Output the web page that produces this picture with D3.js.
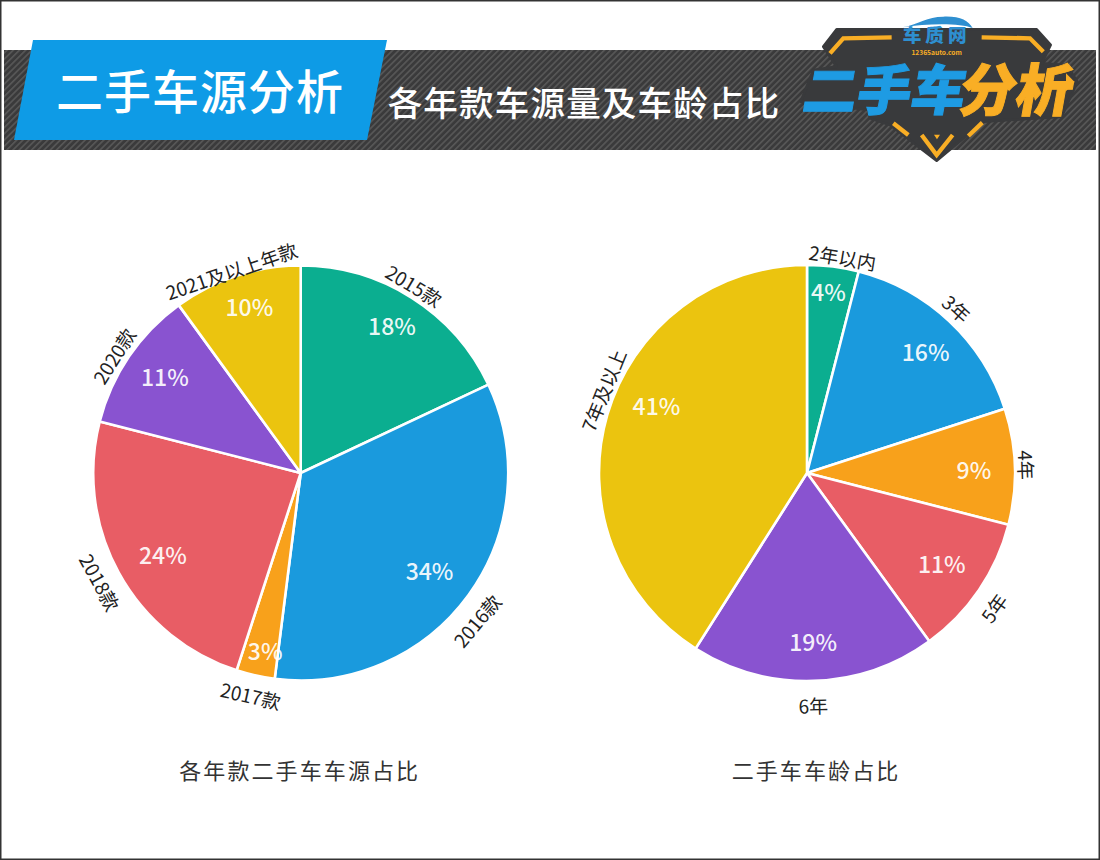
<!DOCTYPE html>
<html><head><meta charset="utf-8">
<script src="https://cdn.jsdelivr.net/npm/d3@7"></script>
<style>html,body{margin:0;padding:0;background:#fff}svg{display:block}
text{font-family:"Noto Sans CJK SC","Noto Sans",sans-serif}</style></head>
<body><div id="c"></div>
<script>
const modelCats = ["2015款","2016款","2017款","2018款","2020款","2021及以上年款"];
const modelVals = [18,34,3,24,11,10];
const ageCats = ["2年以内","3年","4年","5年","6年","7年及以上"];
const ageVals = [4,16,9,11,19,41];
const colors = ["#0BAE90","#1A9ADD","#F8A11B","#E85D65","#8953D0","#EBC40F"];
const headerTitle = "二手车源分析";
const headerSub = "各年款车源量及车龄占比";
const titles = ["各年款二手车车源占比","二手车车龄占比"];

const W=1100,H=860;
// label fine-tuning (layout only), in pixels
const modelPctShift=[[4,0],[-3,-6],[0,6],[5,-3],[-1,1],[-1,-1]];
const modelCatShift=[[-5,-1],[-9,13],[0,-1],[0,-1],[-4,7],[-1,8]];
const agePctShift=[[1,-8],[7,6],[4,1],[0,-8],[1,-7],[6,-19]];
const ageCatShift=[[8,4],[-2,-3],[-2,-1],[-3,6],[-1,3],[9,-21]];

const svg=d3.select("#c").append("svg").attr("width",W).attr("height",H).attr("viewBox",`0 0 ${W} ${H}`);
svg.append("rect").attr("width",W).attr("height",H).attr("fill","#fff");

const defs=svg.append("defs");
const pat=defs.append("pattern").attr("id","hatch").attr("width",4.4).attr("height",4.4)
  .attr("patternUnits","userSpaceOnUse").attr("patternTransform","rotate(45)");
pat.append("rect").attr("width",4.4).attr("height",4.4).attr("fill","#3a3a3b");
pat.append("rect").attr("width",1.6).attr("height",4.4).attr("fill","#585858");

svg.append("rect").attr("x",4).attr("y",50).attr("width",1092).attr("height",100).attr("fill","url(#hatch)");
svg.append("polygon").attr("points","33,40 387,40 367,140 14,140").attr("fill","#0E9BE6");
svg.append("text").attr("x",200).attr("y",109).attr("text-anchor","middle").attr("font-size",47)
  .attr("letter-spacing",1).attr("font-weight",500).attr("fill","#fff").text(headerTitle);
svg.append("text").attr("x",584).attr("y",116).attr("text-anchor","middle").attr("font-size",34.5)
  .attr("letter-spacing",1.2).attr("font-weight",500).attr("fill","#fff").text(headerSub);

// logo, drawn in 3x crop coordinates
const logo=svg.append("g").attr("transform","translate(780,10) scale(0.3333)");
logo.append("polygon").attr("points","170,58 770,58 812,105 785,160 860,165 892,215 845,320 610,335 470,452 330,345 270,325 265,300 62,275 100,180 170,170 130,110")
  .attr("fill","#393a3c").attr("stroke","#393a3c").attr("stroke-width",8).attr("stroke-linejoin","round");
const org="#F9AE25", blu="#1E9BE3";
["335,82 190,85 150,130","605,82 750,85 790,125","340,340 385,375","607,338 565,378","425,375 470,435 518,375"]
 .forEach(p=>logo.append("polyline").attr("points",p).attr("fill","none").attr("stroke",org).attr("stroke-width",13));
logo.append("polygon").attr("points","462,374 480,374 471,388").attr("fill",org);
logo.append("path").attr("d","M368,52 C420,42 440,20 490,20 C540,18 565,32 578,54 C540,38 440,40 368,52Z").attr("fill","#2E8FD0");
logo.append("text").attr("x",470).attr("y",97).attr("text-anchor","middle").attr("font-size",56).attr("letter-spacing",12).attr("font-weight",900).attr("fill","#2E8FD0").text("车质网");
logo.append("text").attr("x",470).attr("y",134).attr("text-anchor","middle").attr("font-size",20).attr("font-weight",700).attr("fill",org).text("12365auto.com");
const skew=(x,y)=>`translate(${x},${y}) skewX(-10)`;
logo.append("text").attr("transform",skew(62,300)).attr("font-size",162).attr("font-weight",900).attr("fill",blu).attr("stroke",blu).attr("stroke-width",3).text("二手车");
logo.append("text").attr("transform",skew(530,303)).attr("font-size",170).attr("font-weight",900).attr("fill",org).attr("stroke",org).attr("stroke-width",3).text("分析");
logo.append("polygon").attr("points","858,190 884,216 858,244").attr("fill",org);

function drawPie(cx,cy,R,cats,vals,title,titleX,pctShift,catShift){
  const g=svg.append("g").attr("transform",`translate(${cx},${cy})`);
  const data=d3.pie().sort(null).value(d=>d)(vals);
  const arc=d3.arc().innerRadius(0).outerRadius(R);
  const unit=d3.arc().innerRadius(1).outerRadius(1);
  g.selectAll("path").data(data).join("path").attr("d",arc)
    .attr("fill",(d,i)=>colors[i]).attr("stroke","#fff").attr("stroke-width",2.6).attr("stroke-linejoin","round");
  g.selectAll("text.pct").data(data).join("text").attr("class","pct")
    .attr("x",(d,i)=>unit.centroid(d)[0]*163+pctShift[i][0]).attr("y",(d,i)=>unit.centroid(d)[1]*175+pctShift[i][1])
    .attr("text-anchor","middle").attr("dominant-baseline","central")
    .attr("font-size",23).attr("font-weight",500).attr("fill","#fff").attr("fill-opacity",.93)
    .text(d=>d.value+"%");
  g.selectAll("text.cat").data(data).join("text").attr("class","cat")
    .attr("transform",(d,i)=>{
      const c=unit.centroid(d);
      const r=R+(c[1]<0?14:21);
      const x=c[0]*r+catShift[i][0], y=c[1]*r+catShift[i][1];
      const ang=(Math.atan2(x,-y)*180/Math.PI+360)%360;
      const rot=ang<=90?ang:(ang<=270?ang-180:ang-360);
      return `translate(${x},${y}) rotate(${rot})`;
    })
    .attr("text-anchor","middle").attr("dominant-baseline","central")
    .attr("font-size",19).attr("fill","#222").text((d,i)=>cats[i]);
  g.append("text").attr("y",306).attr("x",titleX).attr("text-anchor","middle").attr("font-size",22)
    .attr("letter-spacing",2.1).attr("fill","#333").text(title);
}
drawPie(300.7,473,207.5,modelCats,modelVals,titles[0],-1,modelPctShift,modelCatShift);
drawPie(807,473,208,ageCats,ageVals,titles[1],9,agePctShift,ageCatShift);

svg.append("rect").attr("x",.75).attr("y",.75).attr("width",W-1.5).attr("height",H-1.5).attr("fill","none").attr("stroke","#333").attr("stroke-width",1.5);
</script></body></html>
